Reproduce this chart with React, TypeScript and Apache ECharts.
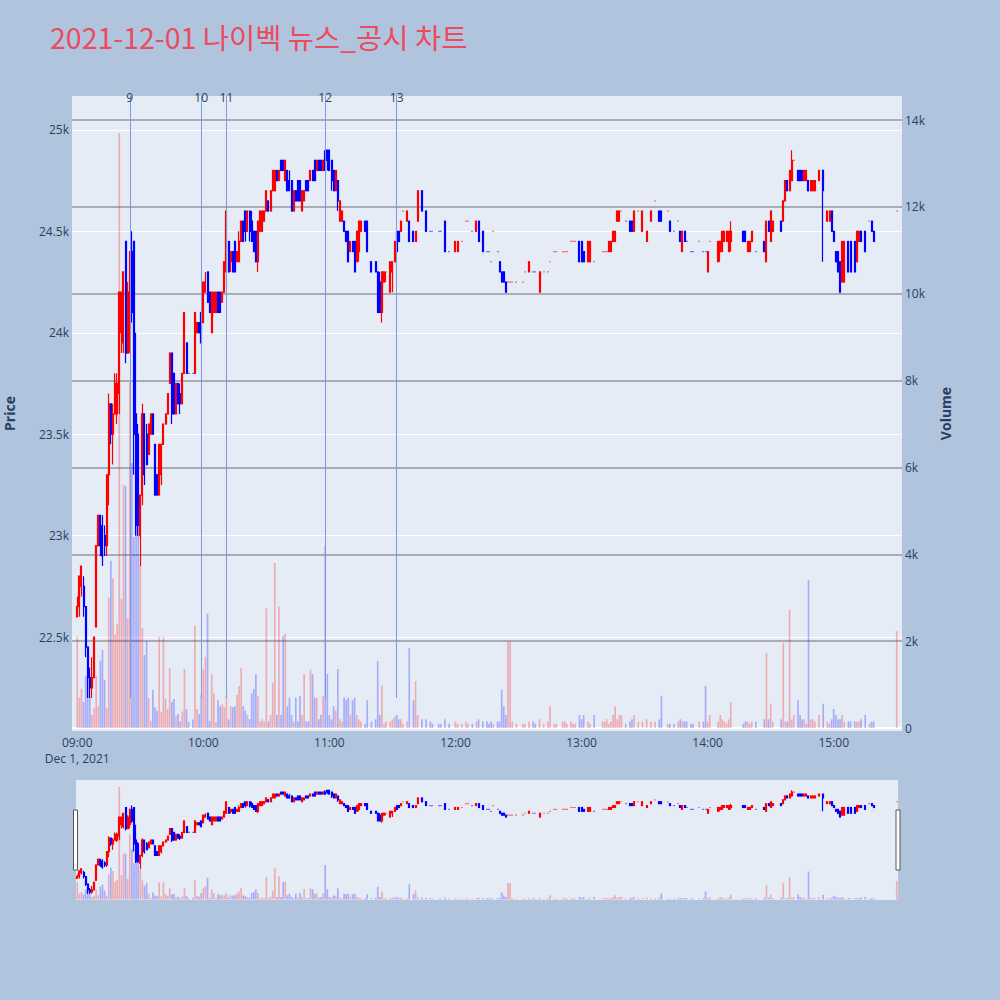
import React, { useEffect, useRef } from "react";
import * as echarts from "echarts";

// One row per minute: [open, close, low, high]; null = no trade in that minute.
type Candle = [number, number, number, number] | null;

const candles09: Candle[] = [
  [22600, 22650, 22600, 22700], [22650, 22800, 22600, 22800], [22750, 22850, 22700, 22850], [22750, 22650, 22600, 22800],
  [22650, 22450, 22400, 22650], [22450, 22300, 22200, 22450], [22300, 22250, 22200, 22350], [22250, 22300, 22200, 22400],
  [22300, 22500, 22300, 22500], [22550, 22950, 22550, 22950], [22950, 23100, 22950, 23100], [23100, 22950, 22900, 23100],
  [23050, 22900, 22850, 23100], [23000, 22950, 22900, 23050], [22950, 23300, 22900, 23300], [23300, 23650, 23150, 23700],
  [23650, 23500, 23450, 23650], [23500, 23600, 23350, 23650], [23600, 23750, 23600, 23800], [23600, 23750, 23550, 23800],
  [23700, 24200, 23600, 24200], [24000, 24200, 23900, 24200], [23950, 24300, 23900, 24300], [24450, 23900, 23850, 24450],
  [23900, 24200, 23900, 24250], [24000, 24400, 23900, 24400], [24400, 24100, 24050, 24500], [24450, 23500, 23300, 24450],
  [23600, 23050, 23000, 24000], [23500, 23050, 23000, 23550], [23000, 23200, 22850, 23200], [23200, 23600, 23150, 23650],
  [23600, 23300, 23250, 23600], [23500, 23350, 23350, 23550], [23400, 23550, 23400, 23550], [23500, 23600, 23500, 23600],
  [23600, 23500, 23500, 23600], [23450, 23200, 23200, 23450], [23300, 23200, 23200, 23300], [23200, 23450, 23200, 23450],
  [23300, 23450, 23250, 23450], [23450, 23550, 23450, 23550], [23550, 23600, 23550, 23600], [23600, 23700, 23600, 23700],
  [23750, 23900, 23750, 23900], [23900, 23600, 23550, 23900], [23800, 23600, 23600, 23800], [23600, 23750, 23600, 23750],
  [23750, 23650, 23650, 23750], [23700, 23650, 23600, 23750], [23650, 23800, 23650, 23800], [23800, 24100, 23800, 24100],
  [23950, 23800, 23800, 23950], [23800, 23800, 23800, 23800], null, [23800, 23800, 23800, 23800],
  [23800, 24100, 23800, 24100], [24000, 24050, 24000, 24050], [24050, 24000, 24000, 24050], [24100, 23950, 23950, 24100],
];

const candles10: Candle[] = [
  [24050, 24250, 24050, 24250], [24200, 24250, 24200, 24300], [24300, 24150, 24150, 24300], [24200, 24100, 24100, 24200],
  [24000, 24200, 24000, 24200], [24100, 24200, 24100, 24200], [24100, 24200, 24100, 24200], [24200, 24100, 24100, 24200],
  [24200, 24100, 24100, 24200], [24150, 24200, 24150, 24200], [24200, 24350, 24200, 24350], [24300, 24600, 24300, 24600],
  [24450, 24300, 24300, 24450], [24350, 24400, 24300, 24400], [24400, 24300, 24300, 24400], [24450, 24300, 24300, 24450],
  [24350, 24400, 24350, 24400], [24350, 24450, 24350, 24500], [24450, 24550, 24450, 24550], [24550, 24450, 24450, 24550],
  [24600, 24500, 24450, 24600], [24500, 24600, 24500, 24600], [24600, 24500, 24450, 24600], [24550, 24450, 24450, 24600],
  [24500, 24400, 24400, 24500], [24500, 24350, 24350, 24500], [24350, 24550, 24300, 24550], [24500, 24600, 24500, 24600],
  [24500, 24600, 24500, 24600], [24550, 24600, 24550, 24600], [24600, 24700, 24600, 24700], [24650, 24600, 24600, 24650],
  [24600, 24700, 24600, 24700], [24700, 24800, 24700, 24800], [24700, 24800, 24700, 24800], [24800, 24750, 24750, 24800],
  [24750, 24800, 24750, 24800], [24850, 24800, 24800, 24850], [24850, 24800, 24800, 24850], [24750, 24850, 24750, 24850],
  [24800, 24700, 24700, 24800], [24750, 24700, 24700, 24800], [24750, 24600, 24600, 24750], [24600, 24700, 24600, 24700],
  [24700, 24650, 24650, 24700], [24750, 24650, 24650, 24750], [24750, 24650, 24650, 24750], [24600, 24700, 24600, 24700],
  [24650, 24700, 24650, 24700], [24750, 24700, 24700, 24750], [24750, 24700, 24700, 24750], [24750, 24800, 24750, 24800],
  [24800, 24750, 24750, 24800], [24850, 24750, 24750, 24850], [24800, 24850, 24800, 24850], [24850, 24800, 24800, 24850],
  [24850, 24800, 24800, 24850], [24800, 24850, 24800, 24850], [24850, 24800, 24800, 24900], [24900, 24850, 24800, 24900],
];

const candles11: Candle[] = [
  [24900, 24800, 24800, 24900], [24850, 24750, 24700, 24850], [24800, 24700, 24700, 24800], [24700, 24800, 24700, 24800],
  [24750, 24650, 24600, 24750], [24550, 24650, 24550, 24650], [24550, 24600, 24550, 24600], [24550, 24500, 24500, 24550],
  [24500, 24450, 24450, 24500], [24500, 24350, 24350, 24500], [24400, 24450, 24400, 24450], [24450, 24400, 24400, 24450],
  [24450, 24300, 24300, 24450], [24350, 24500, 24350, 24500], [24400, 24550, 24350, 24550], [24500, 24550, 24500, 24550],
  null, [24550, 24500, 24500, 24550], [24550, 24400, 24400, 24550], null,
  [24350, 24300, 24300, 24350], null, [24350, 24300, 24300, 24350], [24300, 24100, 24100, 24300],
  [24250, 24100, 24100, 24300], [24100, 24300, 24050, 24300], [24250, 24300, 24250, 24300], [24300, 24300, 24250, 24300],
  null, [24200, 24350, 24200, 24350], [24300, 24350, 24200, 24350], [24350, 24450, 24350, 24450],
  [24500, 24400, 24400, 24500], [24500, 24450, 24450, 24500], [24500, 24550, 24500, 24550], [24600, 24600, 24600, 24600],
  null, [24550, 24600, 24550, 24600], [24550, 24450, 24450, 24550], null,
  [24500, 24450, 24450, 24500], [24450, 24500, 24450, 24500], [24550, 24700, 24550, 24700], null,
  [24700, 24600, 24600, 24700], null, [24600, 24500, 24500, 24600], null,
  [24500, 24500, 24500, 24500], [24500, 24500, 24500, 24500], null, null,
  [24500, 24500, 24500, 24500], [24500, 24500, 24500, 24500], null, [24550, 24400, 24400, 24550],
  null, [24400, 24400, 24400, 24400], null, null,
];

const candles12: Candle[] = [
  [24400, 24450, 24400, 24450], [24400, 24450, 24400, 24450], null, [24450, 24450, 24450, 24450],
  null, [24550, 24550, 24550, 24550], [24550, 24550, 24550, 24550], null,
  [24500, 24500, 24500, 24500], null, [24500, 24550, 24500, 24550], [24550, 24450, 24450, 24550],
  null, [24500, 24400, 24400, 24500], null, [24400, 24400, 24400, 24400],
  [24400, 24400, 24400, 24400], [24350, 24350, 24350, 24350], [24500, 24500, 24500, 24500], null,
  [24400, 24400, 24400, 24400], [24350, 24300, 24300, 24350], [24300, 24250, 24250, 24300], [24300, 24250, 24250, 24300],
  [24250, 24200, 24200, 24250], [24250, 24250, 24250, 24250], [24250, 24250, 24250, 24250], [24250, 24250, 24250, 24250],
  null, [24250, 24250, 24250, 24250], null, null,
  [24250, 24250, 24250, 24250], [24300, 24300, 24300, 24300], null, [24300, 24350, 24300, 24350],
  null, [24300, 24300, 24300, 24300], [24300, 24300, 24300, 24300], null,
  [24200, 24300, 24200, 24300], null, [24300, 24300, 24300, 24300], null,
  [24300, 24300, 24300, 24300], [24350, 24350, 24350, 24350], null, [24400, 24400, 24400, 24400],
  [24400, 24400, 24400, 24400], null, null, [24400, 24400, 24400, 24400],
  [24400, 24400, 24400, 24400], [24400, 24400, 24400, 24400], null, [24450, 24450, 24450, 24450],
  [24450, 24450, 24450, 24450], [24450, 24450, 24450, 24450], null, [24450, 24350, 24350, 24450],
];

const candles13: Candle[] = [
  [24450, 24350, 24350, 24450], [24400, 24350, 24350, 24400], null, [24350, 24450, 24350, 24450],
  [24350, 24450, 24350, 24450], null, [24350, 24350, 24350, 24350], null,
  null, null, [24400, 24400, 24400, 24400], [24400, 24400, 24400, 24400],
  [24400, 24400, 24400, 24400], [24400, 24450, 24400, 24450], [24400, 24450, 24400, 24450], [24450, 24500, 24450, 24500],
  [24450, 24500, 24450, 24500], [24550, 24600, 24550, 24600], [24550, 24600, 24550, 24600], [24600, 24600, 24600, 24600],
  null, [24550, 24550, 24550, 24550], null, [24550, 24500, 24500, 24550],
  [24550, 24500, 24500, 24550], [24500, 24600, 24500, 24600], null, [24600, 24600, 24600, 24600],
  null, [24500, 24600, 24500, 24600], null, [24450, 24500, 24450, 24500],
  null, [24550, 24600, 24550, 24600], null, [24650, 24650, 24650, 24650],
  null, [24600, 24550, 24550, 24600], [24600, 24550, 24550, 24600], null,
  null, [24600, 24600, 24600, 24600], [24550, 24500, 24500, 24550], null,
  [24500, 24500, 24500, 24500], null, [24550, 24550, 24550, 24550], [24500, 24450, 24450, 24500],
  [24400, 24500, 24400, 24500], [24500, 24450, 24450, 24500], [24450, 24450, 24450, 24450], null,
  [24400, 24400, 24400, 24400], [24400, 24400, 24400, 24400], null, null,
  [24450, 24450, 24450, 24450], null, [24400, 24400, 24400, 24400], [24400, 24400, 24400, 24400],
];

const candles14: Candle[] = [
  [24300, 24400, 24300, 24400], [24450, 24450, 24450, 24450], null, null,
  null, [24350, 24450, 24350, 24450], [24400, 24450, 24350, 24450], [24400, 24500, 24400, 24500],
  [24450, 24500, 24450, 24500], [24450, 24500, 24450, 24500], [24400, 24500, 24400, 24500], [24450, 24500, 24400, 24550],
  null, null, null, null,
  null, [24500, 24450, 24450, 24500], [24500, 24450, 24450, 24500], [24400, 24450, 24400, 24450],
  [24400, 24450, 24400, 24450], [24450, 24500, 24450, 24500], null, [24400, 24400, 24400, 24400],
  null, null, null, [24450, 24400, 24400, 24450],
  [24350, 24550, 24350, 24550], [24550, 24500, 24500, 24550], [24450, 24600, 24450, 24600], [24500, 24550, 24500, 24550],
  null, null, null, [24550, 24500, 24500, 24550],
  [24550, 24650, 24550, 24650], [24650, 24750, 24650, 24750], [24750, 24700, 24700, 24750], [24700, 24800, 24700, 24800],
  [24750, 24850, 24750, 24900], [24850, 24850, 24850, 24850], null, [24800, 24750, 24750, 24800],
  [24800, 24750, 24750, 24800], [24800, 24750, 24750, 24800], [24750, 24800, 24750, 24800], [24750, 24800, 24750, 24800],
  [24750, 24700, 24700, 24750], [24700, 24750, 24700, 24750], [24700, 24750, 24700, 24750], [24700, 24750, 24700, 24750],
  null, [24750, 24800, 24750, 24800], null, [24800, 24700, 24350, 24800],
  null, [24550, 24600, 24550, 24600], [24550, 24600, 24550, 24600], [24600, 24500, 24500, 24600],
];

const candles15: Candle[] = [
  [24500, 24450, 24450, 24500], [24400, 24350, 24350, 24400], [24400, 24300, 24300, 24400], [24350, 24200, 24200, 24350],
  [24250, 24450, 24250, 24450], [24250, 24450, 24250, 24450], null, [24450, 24300, 24300, 24450],
  [24450, 24300, 24300, 24450], null, [24450, 24300, 24300, 24450], [24350, 24500, 24350, 24500],
  [24450, 24500, 24450, 24500], [24500, 24450, 24450, 24500], null, [24500, 24400, 24400, 24500],
  null, [24550, 24550, 24550, 24550], [24550, 24500, 24500, 24550], [24500, 24450, 24450, 24500],
  null, null, null, null, null, null, null, null, null, null,
  [24600, 24600, 24600, 24600],
];

// Traded volume per minute (0 = no trade)
const volume09 = [
  2100, 700, 900, 600, 1200, 1200, 700, 300, 450, 1200,
  500, 1550, 1800, 1100, 450, 3000, 3850, 3450, 2150, 2400,
  13700, 2970, 5600, 5570, 2530, 7950, 6100, 4400, 5570, 5600,
  3750, 2300, 1680, 2000, 690, 160, 880, 480, 400, 2100,
  370, 2100, 670, 440, 1380, 600, 670, 280, 320, 150,
  380, 1360, 440, 140, 0, 200, 2350, 440, 320, 760,
];
const volume10 = [
  1360, 1640, 2630, 160, 1240, 800, 140, 640, 500, 550,
  480, 760, 200, 500, 480, 500, 760, 970, 1380, 500,
  400, 300, 200, 800, 900, 1240, 740, 150, 200, 150,
  2760, 150, 300, 1040, 3800, 300, 2800, 300, 2120, 2170,
  500, 700, 300, 150, 700, 150, 740, 300, 1240, 150,
  150, 1340, 1240, 700, 700, 200, 300, 740, 4200, 1240,
];
const volume11 = [
  300, 200, 500, 400, 1360, 200, 150, 700, 650, 700,
  300, 640, 700, 300, 200, 150, 0, 100, 640, 0,
  150, 0, 200, 1540, 300, 980, 100, 150, 0, 150,
  200, 250, 300, 200, 200, 100, 0, 150, 1840, 0,
  640, 1080, 300, 0, 200, 0, 200, 0, 150, 100,
  0, 0, 100, 100, 0, 200, 0, 100, 0, 0,
];
const volume12 = [
  150, 100, 0, 100, 0, 150, 100, 0, 100, 0,
  150, 200, 0, 150, 0, 150, 100, 150, 100, 0,
  150, 150, 880, 500, 300, 2000, 2000, 150, 0, 100,
  0, 0, 100, 100, 0, 150, 0, 150, 100, 0,
  200, 0, 100, 0, 150, 500, 0, 100, 100, 0,
  0, 150, 150, 100, 0, 150, 100, 100, 0, 300,
];
const volume13 = [
  200, 300, 0, 150, 100, 0, 300, 0, 0, 0,
  150, 150, 200, 100, 150, 300, 500, 200, 300, 300,
  0, 100, 0, 150, 200, 300, 0, 150, 0, 150,
  0, 200, 0, 150, 0, 150, 0, 200, 740, 0,
  0, 100, 100, 0, 100, 0, 150, 200, 150, 150,
  150, 0, 100, 100, 0, 0, 150, 0, 150, 970,
];
const volume14 = [
  150, 300, 0, 0, 0, 150, 300, 200, 150, 100,
  200, 600, 0, 0, 0, 0, 0, 100, 150, 150,
  100, 150, 0, 150, 0, 0, 0, 200, 1730, 200,
  560, 150, 0, 0, 0, 200, 1960, 150, 150, 2720,
  200, 300, 0, 640, 300, 200, 200, 100, 3400, 200,
  200, 150, 0, 300, 0, 560, 0, 150, 100, 200,
];
const volume15 = [
  440, 300, 200, 200, 300, 150, 0, 150, 150, 0,
  150, 150, 150, 200, 0, 300, 0, 100, 150, 150,
  0, 0, 0, 0, 0, 0, 0, 0, 0, 0,
  2230,
];

// News/disclosure markers (label, minute of the session)
const newsLabels = ["9", "10", "11", "12", "13"];
const newsTimes = ["09:25", "09:59", "10:11", "10:58", "11:32"];

const titleText = "2021-12-01 나이벡 뉴스_공시 차트";
const sessionDate = "Dec 1, 2021";

const priceRange = [22037, 25167];
const volumeRange = [-69, 14553];

const UP = "#FF0000";
const DOWN = "#0000FF";
const UP_VOL = "rgba(255, 0, 0, 0.27)";
const DOWN_VOL = "rgba(0, 0, 255, 0.27)";
const FONT_COLOR = "#2a3f5f";
const FONT = "'Open Sans', 'Noto Sans', sans-serif";

const SESSION_OPEN = 9 * 60;
const PAD_BEFORE = 2;
const PAD_AFTER = 2;

function minuteLabel(m: number): string {
  const t = SESSION_OPEN + m;
  const hh = String(Math.floor(t / 60)).padStart(2, "0");
  const mm = String(t % 60).padStart(2, "0");
  return `${hh}:${mm}`;
}

// Rising / falling per minute: close vs open, ties resolved against the previous close.
function directions(rows: Candle[]): (boolean | null)[] {
  let prevClose = NaN;
  let prevUp = true;
  return rows.map((r) => {
    if (!r) return null;
    const [o, c] = r;
    let up: boolean;
    if (c > o) up = true;
    else if (c < o) up = false;
    else if (!isNaN(prevClose) && c > prevClose) up = true;
    else if (!isNaN(prevClose) && c < prevClose) up = false;
    else up = prevUp;
    prevClose = c;
    prevUp = up;
    return up;
  });
}

function buildOption() {
  const candles: Candle[] = [
    ...candles09, ...candles10, ...candles11, ...candles12, ...candles13, ...candles14, ...candles15,
  ];
  const volumes: number[] = [
    ...volume09, ...volume10, ...volume11, ...volume12, ...volume13, ...volume14, ...volume15,
  ];
  const dirs = directions(candles);

  const categories: string[] = [];
  for (let m = -PAD_BEFORE; m < candles.length + PAD_AFTER; m++) categories.push(minuteLabel(m));

  const emptyCandle = ["-", "-", "-", "-"];
  const padC = (arr: any[]) => [
    ...Array.from({ length: PAD_BEFORE }, () => emptyCandle),
    ...arr,
    ...Array.from({ length: PAD_AFTER }, () => emptyCandle),
  ];
  const padV = (arr: any[]) => [
    ...Array.from({ length: PAD_BEFORE }, () => "-"),
    ...arr,
    ...Array.from({ length: PAD_AFTER }, () => "-"),
  ];

  const candleData = padC(
    candles.map((c, i) => {
      if (!c) return emptyCandle;
      const col = dirs[i] ? UP : DOWN;
      return {
        value: c,
        itemStyle: { color: col, color0: col, borderColor: col, borderColor0: col, borderColorDoji: col },
      };
    })
  );
  const volumeData = padV(
    volumes.map((v, i) => {
      if (!v || !candles[i]) return "-";
      return { value: v, itemStyle: { color: dirs[i] ? UP_VOL : DOWN_VOL } };
    })
  );

  const lows = candles.filter((c) => c).map((c) => (c as number[])[2]);
  const lowest = Math.min(...lows);

  const markerLines = newsLabels.map((label, i) => [
    { name: label, xAxis: newsTimes[i], yAxis: lowest },
    { xAxis: newsTimes[i], yAxis: priceRange[1] },
  ]);

  const hourInterval = (index: number, value: string) =>
    index >= PAD_BEFORE && value.endsWith(":00");

  const candleStyle = { color: UP, color0: DOWN, borderColor: UP, borderColor0: DOWN };

  return {
    animation: false,
    backgroundColor: "#B0C4DE",
    textStyle: { fontFamily: FONT },
    title: {
      text: titleText,
      left: 50,
      top: 22,
      padding: 0,
      textStyle: {
        color: "#EB4B5F",
        fontSize: 28.5,
        fontWeight: "normal",
        fontFamily: "'Noto Sans CJK KR', 'Open Sans', sans-serif",
      },
    },
    grid: [
      {
        left: 72, top: 96, width: 830, height: 635,
        show: true, backgroundColor: "#E5ECF6", borderWidth: 0,
        containLabel: false, outerBoundsMode: "none",
      },
      {
        left: 72, top: 780, width: 830, height: 120,
        show: false, containLabel: false, outerBoundsMode: "none",
      },
    ],
    xAxis: [
      {
        type: "category",
        gridIndex: 0,
        data: categories,
        boundaryGap: true,
        axisLine: { show: false },
        axisTick: { show: false },
        splitLine: { show: false },
        axisLabel: {
          interval: hourInterval,
          formatter: (v: string, i: number) => (i === PAD_BEFORE ? `${v}\n${sessionDate}` : v),
          color: FONT_COLOR,
          fontSize: 12,
          lineHeight: 16,
          margin: 3,
          fontFamily: FONT,
        },
      },
      {
        type: "category",
        gridIndex: 1,
        data: categories,
        boundaryGap: true,
        show: false,
      },
    ],
    yAxis: [
      {
        type: "value",
        gridIndex: 0,
        position: "left",
        min: priceRange[0],
        max: priceRange[1],
        splitNumber: 6,
        name: "Price",
        nameLocation: "middle",
        nameGap: 56,
        nameRotate: 90,
        nameTextStyle: { color: FONT_COLOR, fontSize: 14, fontWeight: "bold", fontFamily: FONT },
        axisLine: { show: false },
        axisTick: { show: false },
        axisLabel: {
          color: FONT_COLOR,
          fontSize: 12,
          margin: 3,
          showMinLabel: false,
          showMaxLabel: false,
          formatter: (v: number) => `${v / 1000}k`,
        },
        splitLine: { show: true, showMinLine: false, showMaxLine: false, lineStyle: { color: "#FFFFFF", width: 1 } },
      },
      {
        type: "value",
        gridIndex: 0,
        position: "right",
        min: volumeRange[0],
        max: volumeRange[1],
        splitNumber: 7,
        name: "Volume",
        nameLocation: "middle",
        nameGap: 36,
        nameRotate: 90,
        nameTextStyle: { color: FONT_COLOR, fontSize: 14, fontWeight: "bold", fontFamily: FONT },
        axisLine: { show: false },
        axisTick: { show: false },
        axisLabel: {
          color: FONT_COLOR,
          fontSize: 12,
          margin: 3,
          showMinLabel: false,
          showMaxLabel: false,
          formatter: (v: number) => (v === 0 ? "0" : `${v / 1000}k`),
        },
        splitLine: {
          show: true,
          showMinLine: false,
          showMaxLine: false,
          lineStyle: {
            color: ["#FFFFFF", "#A9ACB2", "#A9ACB2", "#A9ACB2", "#A9ACB2", "#A9ACB2", "#A9ACB2", "#A9ACB2"],
            width: 2,
          },
        },
      },
      { type: "value", gridIndex: 1, min: priceRange[0], max: priceRange[1], show: false, splitLine: { show: false } },
      { type: "value", gridIndex: 1, min: volumeRange[0], max: volumeRange[1], show: false, splitLine: { show: false } },
    ],
    graphic: [
      {
        type: "rect",
        z: 0,
        silent: true,
        shape: { x: 76, y: 780, width: 822, height: 120 },
        style: { fill: "#E5ECF6" },
      },
      {
        type: "rect",
        z: 100,
        silent: true,
        shape: { x: 73.5, y: 810, width: 4, height: 60 },
        style: { fill: "#FFFFFF", stroke: "#555555", lineWidth: 1 },
      },
      {
        type: "rect",
        z: 100,
        silent: true,
        shape: { x: 896, y: 810, width: 4, height: 60 },
        style: { fill: "#FFFFFF", stroke: "#555555", lineWidth: 1 },
      },
    ],
    series: [
      {
        name: "Volume",
        type: "bar",
        xAxisIndex: 0,
        yAxisIndex: 1,
        data: volumeData,
        barWidth: "80%",
        z: 1,
        silent: true,
      },
      {
        name: "Price",
        type: "candlestick",
        xAxisIndex: 0,
        yAxisIndex: 0,
        data: candleData,
        barWidth: 1.5,
        itemStyle: { ...candleStyle, borderWidth: 1.2 },
        z: 3,
        silent: true,
        markLine: {
          silent: true,
          symbol: ["none", "none"],
          animation: false,
          lineStyle: { color: "#7E97E6", width: 1, type: "solid", opacity: 1 },
          label: {
            show: true,
            position: "end",
            formatter: "{b}",
            color: FONT_COLOR,
            fontSize: 12,
            fontFamily: FONT,
            distance: -7,
          },
          emphasis: { disabled: true },
          data: markerLines,
        },
      },
      {
        type: "bar",
        xAxisIndex: 1,
        yAxisIndex: 3,
        data: volumeData,
        barWidth: "80%",
        z: 1,
        silent: true,
      },
      {
        type: "candlestick",
        xAxisIndex: 1,
        yAxisIndex: 2,
        data: candleData,
        barWidth: 1.5,
        itemStyle: { ...candleStyle, borderWidth: 1.2 },
        z: 3,
        silent: true,
      },
    ],
  };
}

export default function App() {
  const ref = useRef<HTMLDivElement>(null);

  useEffect(() => {
    if (!ref.current) return;
    const chart = echarts.init(ref.current, null, { renderer: "svg" });
    chart.setOption(buildOption() as any);
    return () => chart.dispose();
  }, []);

  return (
    <div
      ref={ref}
      style={{ position: "fixed", left: 0, top: 0, width: 1000, height: 1000 }}
    />
  );
}
